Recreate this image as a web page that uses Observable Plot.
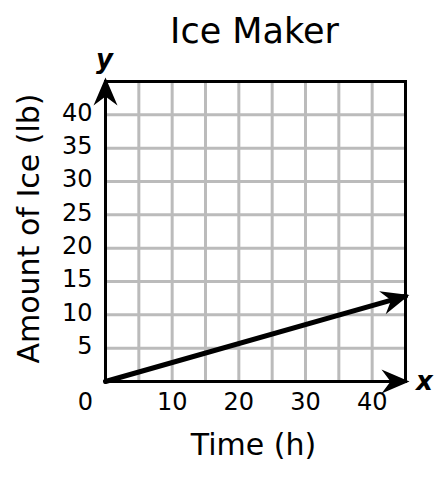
<!DOCTYPE html>
<html><head><meta charset="utf-8">
<script src="https://cdn.jsdelivr.net/npm/d3@7"></script>
<script src="https://cdn.jsdelivr.net/npm/@observablehq/plot@0.6"></script>
<style>html,body{margin:0;padding:0;background:#fff} svg{display:block}</style>
</head><body><div id="chart"></div>
<script>
// ---- data ----
const title = "Ice Maker";
const xLabel = "Time (h)";
const yLabel = "Amount of Ice (lb)";
const xTicks = [10, 20, 30, 40];
const originTick = [0];
const yTicks = [5, 10, 15, 20, 25, 30, 35, 40];
const gridValues = [5, 10, 15, 20, 25, 30, 35, 40];
const axisMin = 0;
const axisMax = 45;
const timeHours = [0, 45];
const iceLb = [0, 12.8];

// ---- derived tables ----
const iceLine = timeHours.map((t, i) => ({t, v: iceLb[i]}));
const yAxisLine = [{t: axisMin, v: axisMin}, {t: axisMin, v: axisMax}];
const xAxisLine = [{t: axisMin, v: axisMin}, {t: axisMax, v: axisMin}];

function arrowHead(color) {
  const ns = "http://www.w3.org/2000/svg";
  const m = document.createElementNS(ns, "marker");
  m.setAttribute("viewBox", "-28 -14 34 28");
  m.setAttribute("markerWidth", 34);
  m.setAttribute("markerHeight", 28);
  m.setAttribute("markerUnits", "userSpaceOnUse");
  m.setAttribute("refX", 0);
  m.setAttribute("refY", 0);
  m.setAttribute("orient", "auto");
  const p = document.createElementNS(ns, "path");
  p.setAttribute("d", "M4,0L-24,-12L-15,0L-24,12Z");
  p.setAttribute("fill", "black");
  p.setAttribute("stroke", "none");
  m.appendChild(p);
  return m;
}

const font = "'DejaVu Sans', Verdana, sans-serif";
const tickFont = 24;

const chart = Plot.plot({
  width: 448,
  height: 486,
  marginLeft: 105,
  marginRight: 43,
  marginTop: 81,
  marginBottom: 105,
  x: {domain: [axisMin, axisMax]},
  y: {domain: [axisMin, axisMax]},
  style: {fontFamily: font, color: "black", background: "white"},
  marks: [
    Plot.gridX(gridValues, {stroke: "#bbbbbb", strokeOpacity: 1, strokeWidth: 3}),
    Plot.gridY(gridValues, {stroke: "#bbbbbb", strokeOpacity: 1, strokeWidth: 3}),
    Plot.frame({stroke: "black", strokeWidth: 3}),
    Plot.line(yAxisLine, {x: "t", y: "v", stroke: "black", strokeWidth: 3, markerEnd: arrowHead}),
    Plot.line(xAxisLine, {x: "t", y: "v", stroke: "black", strokeWidth: 3, markerEnd: arrowHead}),
    Plot.line(iceLine, {x: "t", y: "v", stroke: "black", strokeWidth: 5, markerEnd: arrowHead}),
    Plot.axisX(xTicks, {tickSize: 0, tickPadding: 11, fontSize: tickFont, label: null}),
    Plot.axisX(originTick, {tickSize: 0, tickPadding: 11, fontSize: tickFont, dx: -20, label: null}),
    Plot.axisY(yTicks, {tickSize: 0, tickPadding: 13, fontSize: tickFont, dy: -2, label: null}),
    Plot.text([title], {text: d => d, frameAnchor: "top", textAnchor: "middle", lineAnchor: "bottom", dy: -39, dx: -1, fontSize: 35, fill: "black"}),
    Plot.text([xLabel], {text: d => d, frameAnchor: "bottom", textAnchor: "middle", lineAnchor: "bottom", dy: 73, dx: -2, fontSize: 30, fill: "black"}),
    Plot.text([yLabel], {text: d => d, frameAnchor: "left", textAnchor: "middle", rotate: -90, lineAnchor: "bottom", dx: -67, dy: -3, fontSize: 30, fill: "black"}),
    Plot.text(["y"], {text: d => d, frameAnchor: "top-left", textAnchor: "middle", lineAnchor: "bottom", dx: -1, dy: -14, fontSize: 26, fontWeight: "bold", fontStyle: "italic", fill: "black"}),
    Plot.text(["x"], {text: d => d, frameAnchor: "bottom-right", textAnchor: "middle", lineAnchor: "middle", dx: 19, dy: 0, fontSize: 26, fontWeight: "bold", fontStyle: "italic", fill: "black"})
  ]
});
document.getElementById("chart").appendChild(chart);
</script>
</body></html>
